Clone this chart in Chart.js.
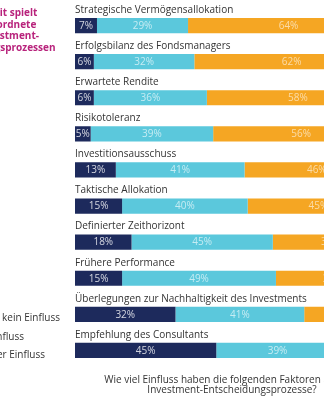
<!DOCTYPE html>
<html>
<head>
<meta charset="utf-8">
<script src="https://cdn.jsdelivr.net/npm/chart.js@4"></script>
<style>
  html, body { margin: 0; padding: 0; background: #fff; overflow: hidden; }
  #wrap { position: absolute; left: 0; top: 0; width: 400px; height: 400px; }
</style>
</head>
<body>
<div id="wrap"><canvas id="barChart"></canvas></div>
<script>
const categories = [
    "Strategische Vermögensallokation",
    "Erfolgsbilanz des Fondsmanagers",
    "Erwartete Rendite",
    "Risikotoleranz",
    "Investitionsausschuss",
    "Taktische Allokation",
    "Definierter Zeithorizont",
    "Frühere Performance",
    "Überlegungen zur Nachhaltigkeit des Investments",
    "Empfehlung des Consultants"
];
const lowInfluence = [7, 6, 6, 5, 13, 15, 18, 15, 32, 45];
const someInfluence = [29, 32, 36, 39, 41, 40, 45, 49, 41, 39];
const highInfluence = [64, 62, 58, 56, 46, 45, 37, 36, 27, 16];
const seriesNames = ["Geringer oder kein Einfluss", "Einfluss", "Großer Einfluss"];
const sideNote = ["Nachhaltigkeit spielt", "eine untergeordnete", "Rolle bei Investment-", "Entscheidungsprozessen"];
const footTitle = ["Wie viel Einfluss haben die folgenden Faktoren auf Ihre", "Investment-Entscheidungsprozesse?"];

const FONT = '"Open Sans", sans-serif';

// labels above the bars, values inside the segments, side text and bottom question
const annotate = {
    id: 'annotate',
    afterDatasetsDraw(chart) {
        const ctx = chart.ctx;
        const area = chart.chartArea;
        ctx.save();
        ctx.textBaseline = 'middle';

        const first = chart.getDatasetMeta(0).data;
        ctx.font = '10px ' + FONT;
        ctx.fillStyle = '#333';
        ctx.textAlign = 'left';
        first.forEach((bar, i) => {
            ctx.fillText(categories[i], area.left, bar.y - 15.5);
        });

        const textColors = ['rgba(255,255,255,0.8)', 'rgba(255,255,255,0.65)', 'rgba(255,255,255,0.6)'];
        ctx.textAlign = 'center';
        chart.data.datasets.forEach((ds, d) => {
            ctx.fillStyle = textColors[d];
            chart.getDatasetMeta(d).data.forEach((bar, i) => {
                ctx.fillText(ds.data[i] + '%', (bar.x + bar.base) / 2, bar.y + 0.5);
            });
        });

        ctx.textAlign = 'left';
        ctx.font = 'bold 10px ' + FONT;
        ctx.fillStyle = '#b8237c';
        sideNote.forEach((line, i) => {
            ctx.fillText(line, -67, 13 + i * 11.7);
        });

        ctx.font = '10px ' + FONT;
        ctx.fillStyle = '#333';
        ctx.textAlign = 'right';
        const legendEnds = [60, 24, 45];
        const legendY = [318, 337, 355];
        seriesNames.forEach((name, i) => {
            ctx.fillText(name, legendEnds[i], legendY[i]);
        });

        ctx.textAlign = 'center';
        const cx = (area.left + area.right) / 2;
        ctx.fillText(footTitle[0], cx, 380);
        ctx.fillText(footTitle[1], cx, 390);
        ctx.restore();
    }
};

const CHART = document.getElementById('barChart');
let barChart = new Chart(CHART, {
    type: 'bar',
    data: {
        labels: categories,
        datasets: [
            { label: seriesNames[0], data: lowInfluence, backgroundColor: '#1d2a5c' },
            { label: seriesNames[1], data: someInfluence, backgroundColor: '#5bc8dc' },
            { label: seriesNames[2], data: highInfluence, backgroundColor: '#f5a623' }
        ]
    },
    options: {
        indexAxis: 'y',
        responsive: true,
        maintainAspectRatio: false,
        animation: false,
        layout: { padding: { left: 75, right: 11, top: 7.5, bottom: 31.5 } },
        datasets: {
            bar: { categoryPercentage: 1, barPercentage: 0.42, borderWidth: 0 }
        },
        scales: {
            x: { stacked: true, min: 0, max: 100, display: false },
            y: { stacked: true, display: false }
        },
        plugins: {
            legend: { display: false },
            tooltip: { enabled: false }
        }
    },
    plugins: [annotate]
});
</script>
</body>
</html>
